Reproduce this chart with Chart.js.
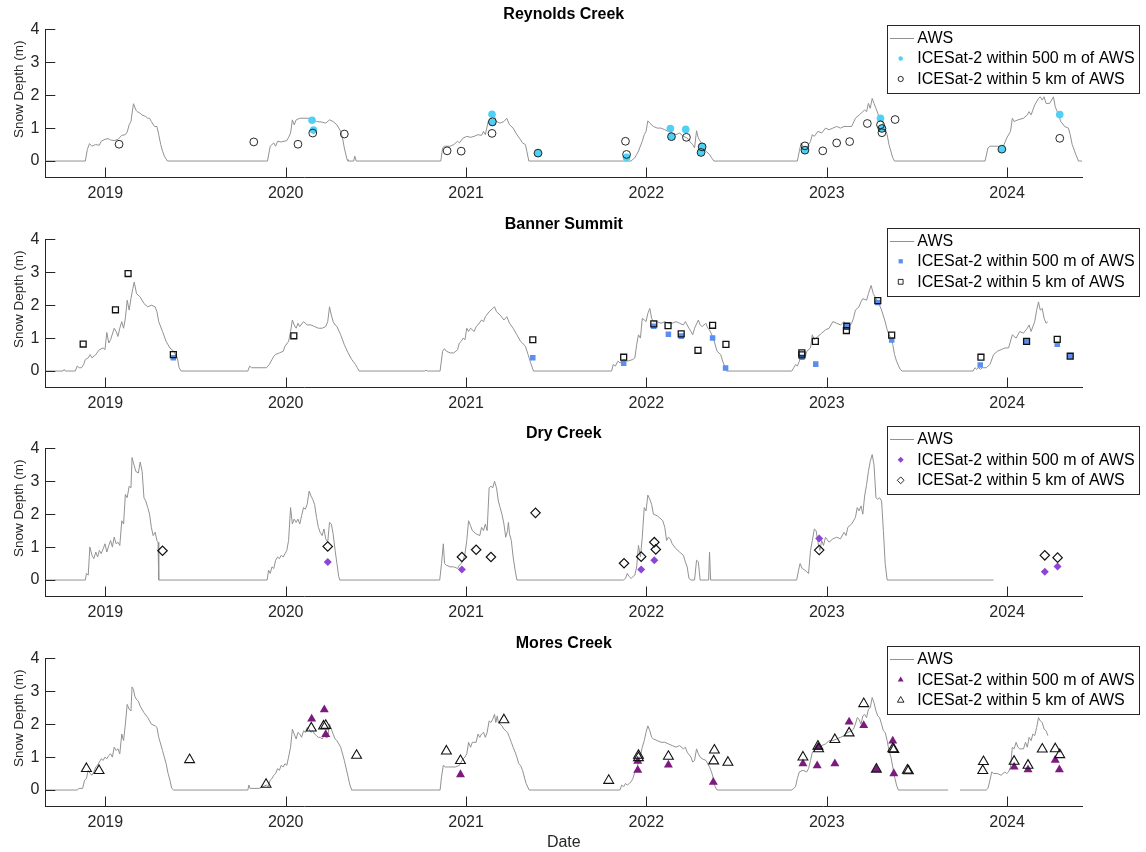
<!DOCTYPE html>
<html>
<head>
<meta charset="utf-8">
<script src="https://cdn.jsdelivr.net/npm/chart.js@4.4.1/dist/chart.umd.min.js"></script>
<style>
html, body { margin: 0; padding: 0; background: #fff; }
#wrap { position: relative; width: 1146px; height: 852px; overflow: hidden; background: #fff; }
canvas { position: absolute; left: 0; }
</style>
</head>
<body>
<div id="wrap">
  <canvas id="c0" width="1146" height="210" style="top:0px;width:1146px;height:210px"></canvas>
  <canvas id="c1" width="1146" height="210" style="top:210px;width:1146px;height:210px"></canvas>
  <canvas id="c2" width="1146" height="210" style="top:419px;width:1146px;height:210px"></canvas>
  <canvas id="c3" width="1146" height="223" style="top:629px;width:1146px;height:223px"></canvas>
</div>
<script>
// ---------- axis settings (decimal years) ----------
const xRange = [2018.667, 2024.417];
const yearTicks = [2019, 2020, 2021, 2022, 2023, 2024];
const depthRange = [-0.5, 4];
const depthTicks = [0, 1, 2, 3, 4];
const siteTitles = ['Reynolds Creek', 'Banner Summit', 'Dry Creek', 'Mores Creek'];
const seriesLabels = ['AWS', 'ICESat-2 within 500 m of AWS', 'ICESat-2 within 5 km of AWS'];
const yAxisLabel = 'Snow Depth (m)';
const xAxisLabel = 'Date';

// ---------- Reynolds Creek ----------
const reynoldsAws = [
[2018.667,0],[2018.889,0],[2018.900,0.35],[2018.912,0.53],[2018.925,0.45],[2018.945,0.50],[2018.967,0.48],[2018.977,0.60],[2018.998,0.66],[2019.015,0.68],[2019.029,0.64],[2019.049,0.62],[2019.070,0.66],[2019.091,0.78],[2019.111,0.80],[2019.121,0.88],[2019.132,1.10],[2019.142,1.20],[2019.148,1.45],[2019.156,1.74],[2019.169,1.55],[2019.177,1.50],[2019.193,1.45],[2019.204,1.40],[2019.224,1.35],[2019.235,1.30],[2019.245,1.30],[2019.255,1.20],[2019.272,1.05],[2019.286,1.05],[2019.296,0.80],[2019.307,0.50],[2019.317,0.30],[2019.327,0.15],[2019.344,0],
[2019.899,0],[2019.914,0.45],[2019.934,0.55],[2019.944,0.45],[2019.955,0.60],[2019.975,0.58],[2020.006,0.62],[2020.016,0.72],[2020.027,0.85],[2020.037,1.25],[2020.047,1.10],[2020.058,1.25],[2020.078,1.30],[2020.119,1.30],[2020.150,1.28],[2020.171,1.20],[2020.202,1.18],[2020.222,1.15],[2020.243,1.25],[2020.263,1.20],[2020.284,1.10],[2020.305,0.90],[2020.315,0.70],[2020.325,0.40],[2020.340,0.05],[2020.345,0],[2020.377,0],[2020.383,0.15],[2020.391,0],
[2020.860,0],[2020.870,0.40],[2020.881,0.45],[2020.912,0.45],[2020.932,0.50],[2020.953,0.60],[2020.963,0.55],[2020.984,0.70],[2021.004,0.75],[2021.025,0.72],[2021.045,0.75],[2021.066,0.80],[2021.086,0.78],[2021.097,0.90],[2021.107,0.80],[2021.123,1.20],[2021.138,1.30],[2021.158,1.35],[2021.169,1.20],[2021.189,1.15],[2021.210,1.20],[2021.226,1.30],[2021.241,1.10],[2021.261,1.00],[2021.282,0.80],[2021.302,0.65],[2021.313,0.55],[2021.329,0.50],[2021.337,0.30],[2021.348,0],
[2021.915,0],[2021.925,0.05],[2021.936,0.10],[2021.946,0.20],[2021.956,0.30],[2021.977,0.60],[2021.988,0.80],[2021.998,0.90],[2022.008,1.22],[2022.019,1.15],[2022.039,1.05],[2022.060,1.00],[2022.081,1.00],[2022.102,0.95],[2022.122,0.90],[2022.143,0.85],[2022.164,0.80],[2022.184,0.85],[2022.205,0.75],[2022.226,0.70],[2022.247,0.55],[2022.257,0.50],[2022.267,0.40],[2022.278,0.92],[2022.288,0.70],[2022.309,0.50],[2022.330,0.30],[2022.350,0.20],[2022.361,0.10],[2022.375,0],
[2022.837,0],[2022.848,0.30],[2022.858,0.55],[2022.868,0.45],[2022.879,0.35],[2022.889,0.40],[2022.910,0.60],[2022.920,0.80],[2022.931,0.75],[2022.951,0.90],[2022.972,0.85],[2022.993,1.00],[2023.013,0.95],[2023.034,1.00],[2023.055,1.05],[2023.076,1.00],[2023.096,1.05],[2023.117,1.05],[2023.138,1.05],[2023.159,1.30],[2023.180,1.40],[2023.200,1.50],[2023.210,1.55],[2023.221,1.50],[2023.231,1.75],[2023.241,1.60],[2023.252,1.90],[2023.262,1.75],[2023.273,1.60],[2023.283,1.45],[2023.293,1.30],[2023.304,1.30],[2023.314,1.10],[2023.324,1.00],[2023.335,0.80],[2023.345,0.50],[2023.366,0.10],[2023.376,0],
[2023.878,0],[2023.894,0.40],[2023.905,0.45],[2023.946,0.45],[2023.977,0.42],[2023.998,0.70],[2024.019,0.90],[2024.029,1.30],[2024.039,1.20],[2024.060,1.25],[2024.091,1.30],[2024.112,1.40],[2024.122,1.50],[2024.133,1.40],[2024.153,1.70],[2024.174,1.90],[2024.184,1.95],[2024.195,1.85],[2024.205,1.95],[2024.216,1.75],[2024.236,1.75],[2024.257,1.95],[2024.267,1.65],[2024.278,1.50],[2024.298,1.20],[2024.319,1.05],[2024.340,1.00],[2024.350,0.80],[2024.361,0.50],[2024.381,0.20],[2024.396,0],[2024.417,0]
];
const reynolds500m = [
[2020.146,1.24],[2020.154,0.94],[2021.144,1.42],[2021.146,1.17],[2021.399,0.24],[2021.890,0.11],[2022.133,0.99],[2022.139,0.74],[2022.218,0.96],[2022.309,0.43],[2022.303,0.26],[2022.879,0.33],[2023.298,1.30],[2023.306,0.99],[2023.971,0.36],[2024.292,1.41]
];
const reynolds5km = [
[2019.076,0.51],[2019.823,0.58],[2020.068,0.51],[2020.150,0.85],[2020.325,0.82],[2020.895,0.31],[2020.973,0.30],[2021.144,0.84],[2021.146,1.19],[2021.399,0.24],[2021.884,0.60],[2021.890,0.20],[2022.139,0.74],[2022.222,0.72],[2022.309,0.43],[2022.303,0.26],[2022.879,0.33],[2022.879,0.46],[2022.978,0.31],[2023.055,0.55],[2023.127,0.59],[2023.225,1.14],[2023.298,1.10],[2023.306,0.99],[2023.306,0.86],[2023.379,1.26],[2023.971,0.36],[2024.292,0.69]
];

// ---------- Banner Summit ----------
const bannerAws = [
[2018.667,0],[2018.765,0],[2018.772,0.05],[2018.778,0],[2018.833,0],[2018.844,0.15],[2018.855,0.10],[2018.868,0.10],[2018.880,0.20],[2018.889,0.35],[2018.905,0.40],[2018.916,0.50],[2018.926,0.40],[2018.947,0.50],[2018.967,0.65],[2018.988,0.70],[2018.998,0.65],[2019.008,1.17],[2019.019,0.85],[2019.029,0.95],[2019.049,1.30],[2019.060,1.20],[2019.070,1.05],[2019.080,1.30],[2019.091,1.50],[2019.101,1.30],[2019.111,1.60],[2019.121,2.15],[2019.132,1.85],[2019.142,2.20],[2019.152,2.50],[2019.160,2.70],[2019.173,2.35],[2019.193,2.25],[2019.214,2.05],[2019.235,1.95],[2019.255,2.00],[2019.276,1.95],[2019.286,1.80],[2019.296,1.50],[2019.317,1.20],[2019.337,0.90],[2019.358,0.70],[2019.379,0.60],[2019.399,0.40],[2019.409,0.10],[2019.420,0],
[2019.790,0],[2019.800,0.15],[2019.811,0.10],[2019.893,0.10],[2019.909,0.20],[2019.924,0.35],[2019.934,0.45],[2019.944,0.50],[2019.965,0.55],[2019.986,0.60],[2019.996,0.75],[2020.016,0.90],[2020.027,1.20],[2020.037,1.55],[2020.047,1.40],[2020.058,1.30],[2020.068,1.45],[2020.078,1.35],[2020.099,1.50],[2020.119,1.40],[2020.140,1.40],[2020.160,1.35],[2020.181,1.30],[2020.202,1.30],[2020.222,1.35],[2020.233,1.50],[2020.243,1.95],[2020.253,1.70],[2020.263,1.50],[2020.274,1.40],[2020.284,1.35],[2020.305,1.10],[2020.325,0.80],[2020.346,0.55],[2020.366,0.35],[2020.387,0.20],[2020.397,0.10],[2020.407,0],
[2020.772,0],[2020.778,0.03],[2020.785,0],[2020.856,0],[2020.870,0.60],[2020.880,0.68],[2020.891,0.60],[2020.912,0.55],[2020.932,0.55],[2020.953,0.65],[2020.963,0.85],[2020.973,0.90],[2020.984,1.00],[2020.994,0.95],[2021.004,1.30],[2021.014,1.20],[2021.025,1.30],[2021.045,1.20],[2021.056,1.35],[2021.066,1.40],[2021.086,1.55],[2021.097,1.50],[2021.107,1.65],[2021.128,1.80],[2021.148,1.90],[2021.158,1.95],[2021.169,1.80],[2021.189,1.70],[2021.210,1.55],[2021.226,1.65],[2021.241,1.45],[2021.261,1.30],[2021.282,1.10],[2021.302,0.90],[2021.313,0.85],[2021.329,0.75],[2021.344,0.50],[2021.358,0.25],[2021.374,0],
[2021.807,0],[2021.816,0.20],[2021.828,0.15],[2021.842,0.30],[2021.853,0.25],[2021.874,0.35],[2021.894,0.30],[2021.925,0.35],[2021.936,0.40],[2021.946,0.80],[2021.956,1.10],[2021.967,1.00],[2021.977,1.60],[2021.988,1.55],[2021.998,1.50],[2022.008,1.75],[2022.019,1.90],[2022.029,1.60],[2022.039,1.50],[2022.060,1.50],[2022.081,1.45],[2022.102,1.50],[2022.122,1.45],[2022.143,1.45],[2022.164,1.50],[2022.184,1.45],[2022.205,1.40],[2022.216,1.50],[2022.236,1.30],[2022.247,1.20],[2022.257,1.10],[2022.267,1.30],[2022.288,1.55],[2022.298,1.40],[2022.309,1.35],[2022.330,1.45],[2022.340,1.30],[2022.350,1.25],[2022.371,1.00],[2022.392,0.60],[2022.412,0.50],[2022.423,0.30],[2022.444,0],
[2022.806,0],[2022.817,0.10],[2022.827,0.20],[2022.837,0.15],[2022.848,0.30],[2022.858,0.45],[2022.868,0.40],[2022.879,0.40],[2022.889,0.60],[2022.910,0.70],[2022.920,1.10],[2022.931,0.95],[2022.951,1.05],[2022.972,1.15],[2022.993,1.25],[2023.013,1.30],[2023.034,1.50],[2023.055,1.45],[2023.076,1.40],[2023.096,1.50],[2023.117,1.30],[2023.138,1.45],[2023.148,1.60],[2023.159,1.85],[2023.179,1.95],[2023.190,2.10],[2023.200,2.20],[2023.221,2.15],[2023.231,2.35],[2023.246,2.60],[2023.258,2.35],[2023.273,2.20],[2023.293,2.00],[2023.304,1.85],[2023.324,1.50],[2023.335,1.25],[2023.345,1.10],[2023.356,1.00],[2023.366,0.80],[2023.376,0.50],[2023.387,0.30],[2023.407,0.05],[2023.418,0],
[2023.811,0],[2023.822,0.10],[2023.832,0.05],[2023.842,0.10],[2023.853,0.05],[2023.863,0.10],[2023.884,0.10],[2023.905,0.20],[2023.925,0.50],[2023.946,0.60],[2023.967,0.65],[2023.988,0.70],[2024.008,0.70],[2024.029,1.10],[2024.050,1.00],[2024.070,1.20],[2024.091,1.15],[2024.112,1.30],[2024.122,1.40],[2024.133,1.20],[2024.153,1.50],[2024.164,1.85],[2024.174,2.10],[2024.184,1.85],[2024.195,1.90],[2024.205,1.60],[2024.216,1.45],[2024.226,1.50]
];
const banner500m = [
[2019.377,0.40],[2021.370,0.40],[2021.874,0.24],[2022.041,1.36],[2022.122,1.12],[2022.193,1.06],[2022.367,1.00],[2022.439,0.09],[2022.862,0.42],[2022.939,0.21],[2023.111,1.36],[2023.283,2.08],[2023.360,0.94],[2023.851,0.18],[2024.108,0.90],[2024.278,0.81],[2024.350,0.45]
];
const banner5km = [
[2018.877,0.82],[2019.056,1.86],[2019.126,2.96],[2019.377,0.50],[2020.045,1.07],[2021.370,0.95],[2021.874,0.42],[2022.041,1.43],[2022.120,1.38],[2022.193,1.13],[2022.286,0.63],[2022.367,1.39],[2022.441,0.81],[2022.862,0.55],[2022.862,0.49],[2022.937,0.90],[2023.109,1.23],[2023.111,1.36],[2023.283,2.14],[2023.360,1.09],[2023.855,0.42],[2024.108,0.90],[2024.278,0.96],[2024.350,0.45]
];

// ---------- Dry Creek ----------
const dryAws = [
[2018.667,0],[2018.889,0],[2018.895,0.20],[2018.905,0.15],[2018.914,1.00],[2018.926,0.75],[2018.936,0.65],[2018.947,0.85],[2018.957,0.70],[2018.967,0.90],[2018.977,0.80],[2018.988,0.95],[2018.998,1.10],[2019.008,0.85],[2019.019,1.05],[2019.029,1.20],[2019.039,1.00],[2019.049,1.30],[2019.060,1.10],[2019.070,1.15],[2019.080,1.05],[2019.091,1.80],[2019.101,1.70],[2019.111,2.60],[2019.121,2.50],[2019.132,2.85],[2019.142,2.80],[2019.148,3.72],[2019.156,3.55],[2019.169,3.30],[2019.183,3.25],[2019.193,3.58],[2019.204,3.30],[2019.214,2.50],[2019.224,2.40],[2019.235,2.20],[2019.245,2.00],[2019.255,1.60],[2019.265,1.35],[2019.276,1.45],[2019.286,1.20],[2019.292,1.15],[2019.296,0],
[2019.897,0],[2019.905,0.30],[2019.914,0.20],[2019.924,0.40],[2019.934,0.35],[2019.944,0.60],[2019.955,0.70],[2019.965,0.65],[2019.975,0.75],[2019.986,0.70],[2019.996,0.80],[2020.006,0.90],[2020.016,1.20],[2020.027,2.20],[2020.037,1.70],[2020.047,1.85],[2020.058,1.75],[2020.068,1.85],[2020.078,1.70],[2020.088,1.95],[2020.099,2.20],[2020.109,2.15],[2020.119,2.30],[2020.130,2.70],[2020.140,2.55],[2020.150,2.45],[2020.160,2.30],[2020.171,1.90],[2020.181,1.60],[2020.191,1.45],[2020.202,1.35],[2020.212,1.55],[2020.222,1.25],[2020.233,1.15],[2020.243,1.75],[2020.253,1.70],[2020.263,1.40],[2020.274,0.90],[2020.284,0.50],[2020.294,0.10],[2020.300,0],
[2020.854,0],[2020.864,0.50],[2020.874,1.10],[2020.881,0.50],[2020.891,0.45],[2020.912,0.40],[2020.932,0.40],[2020.953,0.35],[2020.963,0.45],[2020.973,0.50],[2020.984,0.60],[2020.994,0.80],[2021.004,1.20],[2021.014,1.80],[2021.025,1.65],[2021.035,1.50],[2021.056,1.40],[2021.076,1.35],[2021.086,1.60],[2021.097,1.50],[2021.107,1.70],[2021.117,1.50],[2021.128,2.80],[2021.138,2.85],[2021.148,2.80],[2021.158,3.00],[2021.169,2.80],[2021.179,2.40],[2021.189,2.20],[2021.199,2.00],[2021.210,1.70],[2021.220,1.30],[2021.230,1.50],[2021.235,1.75],[2021.241,1.40],[2021.251,1.20],[2021.261,0.70],[2021.272,0.30],[2021.282,0],
[2021.874,0],[2021.884,0.05],[2021.894,0.20],[2021.905,0.10],[2021.915,0.05],[2021.925,0.10],[2021.936,0.15],[2021.946,0.40],[2021.956,1.05],[2021.967,0.70],[2021.977,1.30],[2021.988,2.20],[2021.998,2.10],[2022.008,2.58],[2022.019,2.45],[2022.029,2.30],[2022.039,2.00],[2022.060,1.95],[2022.081,1.85],[2022.091,1.80],[2022.102,1.60],[2022.112,1.20],[2022.122,1.30],[2022.133,1.25],[2022.143,1.10],[2022.164,0.95],[2022.184,0.85],[2022.205,0.75],[2022.216,0.55],[2022.226,0.40],[2022.236,0.05],[2022.247,0],[2022.267,0],[2022.278,0.60],[2022.288,0.55],[2022.298,0],[2022.345,0],[2022.350,0.85],[2022.356,0],
[2022.833,0],[2022.844,0.30],[2022.852,0.50],[2022.864,0.35],[2022.879,0.30],[2022.899,0.20],[2022.910,0.90],[2022.920,1.20],[2022.931,1.55],[2022.941,1.50],[2022.951,1.15],[2022.962,0.90],[2022.972,1.20],[2022.982,1.05],[2022.993,1.30],[2023.013,1.15],[2023.034,1.25],[2023.055,1.30],[2023.076,1.25],[2023.096,1.45],[2023.107,1.35],[2023.117,1.60],[2023.138,1.70],[2023.159,1.90],[2023.169,2.20],[2023.179,2.10],[2023.190,2.25],[2023.200,2.00],[2023.210,2.55],[2023.221,2.90],[2023.231,3.30],[2023.241,3.60],[2023.252,3.81],[2023.262,3.50],[2023.273,2.50],[2023.283,2.45],[2023.293,2.50],[2023.304,2.40],[2023.314,1.50],[2023.324,0.50],[2023.335,0],[2023.925,0]
];
const dry500m = [
[2020.233,0.55],[2020.977,0.32],[2021.971,0.32],[2022.044,0.60],[2022.958,1.26],[2024.209,0.25],[2024.280,0.41]
];
const dry5km = [
[2019.317,0.89],[2020.233,1.02],[2020.977,0.70],[2021.056,0.92],[2021.138,0.70],[2021.385,2.04],[2021.876,0.51],[2021.971,0.71],[2022.044,1.15],[2022.052,0.93],[2022.958,0.91],[2024.209,0.75],[2024.280,0.68]
];

// ---------- Mores Creek ----------
const moresAws = [
[2018.667,0],[2018.844,0],[2018.854,0.05],[2018.874,0.05],[2018.885,0.30],[2018.895,0.35],[2018.905,0.60],[2018.916,0.50],[2018.926,0.45],[2018.936,0.55],[2018.947,0.70],[2018.957,0.75],[2018.967,0.85],[2018.977,0.95],[2018.988,0.90],[2018.998,1.00],[2019.008,0.95],[2019.019,1.05],[2019.029,1.10],[2019.039,1.00],[2019.049,1.30],[2019.060,1.20],[2019.070,1.25],[2019.080,1.10],[2019.091,1.70],[2019.101,1.50],[2019.111,2.00],[2019.121,2.60],[2019.132,2.45],[2019.142,2.40],[2019.148,3.13],[2019.156,3.05],[2019.163,2.85],[2019.173,2.75],[2019.183,2.70],[2019.193,2.55],[2019.214,2.35],[2019.235,2.20],[2019.255,2.00],[2019.276,1.95],[2019.286,1.90],[2019.296,1.60],[2019.317,1.20],[2019.337,0.80],[2019.348,0.50],[2019.358,0.30],[2019.368,0.05],[2019.379,0],
[2019.790,0],[2019.796,0.15],[2019.802,0.05],[2019.852,0.05],[2019.872,0.10],[2019.893,0.15],[2019.903,0.10],[2019.914,0.30],[2019.924,0.35],[2019.934,0.45],[2019.944,0.50],[2019.955,0.65],[2019.965,0.60],[2019.975,0.75],[2019.986,0.70],[2019.996,0.80],[2020.006,0.75],[2020.016,1.00],[2020.027,1.30],[2020.037,1.85],[2020.047,1.70],[2020.058,1.55],[2020.068,1.75],[2020.078,1.70],[2020.088,1.60],[2020.099,1.80],[2020.109,1.75],[2020.119,1.90],[2020.130,1.85],[2020.140,1.75],[2020.150,1.80],[2020.160,1.70],[2020.171,1.65],[2020.181,1.60],[2020.191,1.60],[2020.202,1.55],[2020.212,1.65],[2020.222,1.60],[2020.233,1.60],[2020.243,2.00],[2020.253,1.85],[2020.263,1.70],[2020.274,1.55],[2020.284,1.50],[2020.305,1.30],[2020.325,0.90],[2020.346,0.40],[2020.356,0.15],[2020.366,0],
[2020.856,0],[2020.864,0.40],[2020.874,0.75],[2020.885,0.70],[2020.901,0.70],[2020.922,0.70],[2020.942,0.70],[2020.963,0.75],[2020.973,0.85],[2020.984,0.95],[2020.994,1.00],[2021.004,1.10],[2021.014,1.45],[2021.025,1.30],[2021.035,1.45],[2021.056,1.45],[2021.066,1.70],[2021.076,1.60],[2021.086,1.70],[2021.097,1.75],[2021.107,1.60],[2021.117,1.75],[2021.128,2.10],[2021.138,2.05],[2021.148,2.15],[2021.158,2.30],[2021.165,2.05],[2021.173,2.25],[2021.179,2.05],[2021.189,2.00],[2021.199,1.95],[2021.210,1.85],[2021.220,1.80],[2021.230,1.75],[2021.241,1.60],[2021.251,1.45],[2021.261,1.30],[2021.272,1.15],[2021.282,1.00],[2021.292,0.80],[2021.302,0.75],[2021.313,0.60],[2021.333,0.20],[2021.350,0],
[2021.853,0],[2021.863,0.15],[2021.874,0.10],[2021.884,0.20],[2021.894,0.15],[2021.905,0.20],[2021.915,0.25],[2021.925,0.35],[2021.936,0.55],[2021.946,0.60],[2021.956,0.85],[2021.967,1.05],[2021.977,1.30],[2021.988,1.50],[2021.998,1.75],[2022.008,1.95],[2022.019,1.80],[2022.029,1.60],[2022.039,1.55],[2022.060,1.50],[2022.081,1.45],[2022.102,1.45],[2022.122,1.40],[2022.143,1.35],[2022.164,1.30],[2022.184,1.35],[2022.205,1.25],[2022.216,1.30],[2022.226,1.15],[2022.247,1.00],[2022.257,0.85],[2022.267,0.90],[2022.278,1.25],[2022.288,1.10],[2022.298,1.00],[2022.309,0.95],[2022.330,0.90],[2022.350,0.70],[2022.361,0.55],[2022.371,0.35],[2022.381,0.10],[2022.392,0],
[2022.806,0],[2022.817,0.05],[2022.827,0.10],[2022.837,0.35],[2022.848,0.55],[2022.868,0.60],[2022.889,0.55],[2022.899,0.65],[2022.910,0.90],[2022.920,1.15],[2022.931,1.20],[2022.941,1.35],[2022.951,1.25],[2022.972,1.35],[2022.993,1.40],[2023.013,1.50],[2023.034,1.50],[2023.055,1.55],[2023.076,1.60],[2023.096,1.65],[2023.117,1.75],[2023.138,1.80],[2023.148,1.85],[2023.159,2.00],[2023.169,2.20],[2023.179,2.15],[2023.190,2.00],[2023.200,2.25],[2023.210,2.30],[2023.221,2.20],[2023.231,2.45],[2023.241,2.50],[2023.252,2.81],[2023.262,2.65],[2023.273,2.40],[2023.283,2.25],[2023.293,2.20],[2023.304,2.00],[2023.314,1.80],[2023.324,1.75],[2023.335,1.50],[2023.345,1.20],[2023.356,1.00],[2023.366,0.70],[2023.376,0.40],[2023.387,0.15],[2023.397,0],[2023.673,0],[2023.706,null],[2023.739,0],
[2023.884,0],[2023.894,0.05],[2023.905,0.30],[2023.915,0.55],[2023.925,0.50],[2023.946,0.50],[2023.967,0.45],[2023.977,0.50],[2023.988,0.55],[2023.998,0.50],[2024.008,0.55],[2024.019,0.70],[2024.029,1.30],[2024.039,1.25],[2024.050,1.45],[2024.060,1.30],[2024.070,1.25],[2024.091,1.25],[2024.102,1.45],[2024.112,1.30],[2024.122,1.60],[2024.133,1.50],[2024.143,1.70],[2024.153,1.65],[2024.164,1.90],[2024.174,2.20],[2024.184,2.10],[2024.195,2.05],[2024.205,1.85],[2024.216,1.80],[2024.226,1.65]
];
const mores500m = [
[2020.144,2.16],[2020.214,2.44],[2020.222,1.69],[2020.969,0.47],[2021.952,0.88],[2021.952,0.60],[2022.122,0.76],[2022.371,0.24],[2022.868,0.80],[2022.951,1.30],[2022.947,0.74],[2023.045,0.80],[2023.124,2.07],[2023.205,1.96],[2023.275,0.63],[2023.366,1.49],[2023.372,0.50],[2024.039,0.70],[2024.116,0.62],[2024.267,0.91],[2024.290,0.62]
];
const mores5km = [
[2018.895,0.65],[2018.965,0.59],[2019.467,0.92],[2019.891,0.17],[2020.142,1.88],[2020.210,1.94],[2020.222,1.96],[2020.393,1.05],[2020.891,1.18],[2020.969,0.89],[2021.210,2.13],[2021.791,0.29],[2021.956,1.05],[2021.956,0.98],[2022.122,1.02],[2022.377,1.21],[2022.373,0.88],[2022.452,0.84],[2022.868,1.00],[2022.951,1.33],[2022.955,1.25],[2023.045,1.53],[2023.124,1.73],[2023.205,2.62],[2023.275,0.63],[2023.366,1.25],[2023.372,1.23],[2023.447,0.60],[2023.453,0.58],[2023.869,0.86],[2023.865,0.59],[2024.039,0.87],[2024.116,0.75],[2024.195,1.24],[2024.267,1.25],[2024.292,1.07]
];

// ---------- rendering ----------
const FONT = "'Liberation Sans', Arial, Helvetica, sans-serif";
const AXIS_COLOR = '#262626';
const AWS_COLOR = '#929292';
const PLOT_LEFT = 45.3, PLOT_RIGHT = 1082.3, PLOT_BOTTOM = 177.5;

function toXY(arr) { return arr.map(p => ({ x: p[0], y: p[1] })); }

function drawMarker(ctx, style, x, y, r, fill, stroke, lw) {
  ctx.beginPath();
  if (style === 'circle') {
    ctx.arc(x, y, r, 0, Math.PI * 2);
  } else if (style === 'rect') {
    const s = r * Math.SQRT1_2; ctx.rect(x - s, y - s, 2 * s, 2 * s);
  } else if (style === 'rectRot') {
    ctx.moveTo(x, y - r); ctx.lineTo(x + r, y); ctx.lineTo(x, y + r); ctx.lineTo(x - r, y); ctx.closePath();
  } else if (style === 'triangle') {
    const a = 2 * Math.PI / 3;
    ctx.moveTo(x, y - r);
    ctx.lineTo(x + r * Math.sin(a), y - r * Math.cos(a));
    ctx.lineTo(x + r * Math.sin(2 * a), y - r * Math.cos(2 * a));
    ctx.closePath();
  }
  if (fill) { ctx.fillStyle = fill; ctx.fill(); }
  if (stroke) { ctx.strokeStyle = stroke; ctx.lineWidth = lw || 1; ctx.stroke(); }
}

// inward tick marks (MATLAB style) drawn at the scales' own tick positions
const inwardTicks = {
  id: 'inwardTicks',
  afterDraw(chart) {
    const { ctx, chartArea: a, scales: { x, y } } = chart;
    ctx.save();
    ctx.strokeStyle = AXIS_COLOR; ctx.lineWidth = 1;
    ctx.beginPath();
    x.ticks.forEach(t => {
      const px = Math.round(x.getPixelForValue(t.value)) + 0.5;
      ctx.moveTo(px, a.bottom); ctx.lineTo(px, a.bottom - 10);
    });
    y.ticks.forEach(t => {
      const py = Math.round(y.getPixelForValue(t.value)) + 0.5;
      ctx.moveTo(a.left, py); ctx.lineTo(a.left + 10, py);
    });
    ctx.stroke();
    ctx.restore();
  }
};

// y-axis label, placed like the original
const yLabel = {
  id: 'yLabel',
  afterDraw(chart) {
    const { ctx, chartArea: a } = chart;
    ctx.save();
    ctx.translate(19.5, a.top + 60);
    ctx.rotate(-Math.PI / 2);
    ctx.fillStyle = AXIS_COLOR;
    ctx.font = '13.5px ' + FONT;
    ctx.textAlign = 'center'; ctx.textBaseline = 'middle';
    ctx.fillText(yAxisLabel, 0, 0);
    ctx.restore();
  }
};

const panelLegend = {
  id: 'panelLegend',
  afterDraw(chart, args, opts) {
    const ctx = chart.ctx, a = chart.chartArea;
    const ds = chart.data.datasets;
    const aws = ds.find(d => d.label === seriesLabels[0]);
    const near = ds.find(d => d.label === seriesLabels[1]);
    const far = ds.find(d => d.label === seriesLabels[2]);
    const r0 = a.top + opts.rowOffset;
    const rows = [r0, r0 + 20.5, r0 + 41];
    const left = 887, right = 1139, top = Math.round(r0 - 13), bottom = Math.round(r0 + 55);
    ctx.save();
    ctx.fillStyle = '#ffffff';
    ctx.fillRect(left, top, right - left, bottom - top);
    ctx.strokeStyle = AXIS_COLOR; ctx.lineWidth = 1;
    ctx.strokeRect(left + 0.5, top + 0.5, right - left, bottom - top);
    ctx.strokeStyle = aws.borderColor; ctx.lineWidth = 1;
    ctx.beginPath();
    ctx.moveTo(890, Math.round(rows[0]) + 0.5); ctx.lineTo(914, Math.round(rows[0]) + 0.5);
    ctx.stroke();
    drawMarker(ctx, opts.style, 900.7, rows[1], opts.legendNearR, near.backgroundColor, null);
    drawMarker(ctx, opts.style, 900.7, rows[2], opts.legendFarR, null, far.borderColor, 0.9);
    ctx.fillStyle = '#000';
    ctx.font = '16px ' + FONT;
    ctx.textAlign = 'left'; ctx.textBaseline = 'middle';
    ctx.fillText(aws.label, 917.3, rows[0] + 0.5);
    ctx.fillText(near.label, 917.3, rows[1] + 0.5);
    ctx.fillText(far.label, 917.3, rows[2] + 0.5);
    ctx.restore();
  }
};

const panels = [
  { id: 'c0', H: 210, title: siteTitles[0], aws: reynoldsAws, near: reynolds500m, far: reynolds5km, legendRow: 8.7,
    style: 'circle', color: '#4fd0f4', nearR: 3.8, farR: 3.9, farW: 0.9, legendNearR: 2.2, legendFarR: 2.6 },
  { id: 'c1', H: 210, title: siteTitles[1], aws: bannerAws, near: banner500m, far: banner5km, legendRow: 1.5,
    style: 'rect', color: '#5b8ef0', nearR: 3.9, farR: 4.2, farW: 1.3, legendNearR: 3.0, legendFarR: 3.4 },
  { id: 'c2', H: 210, title: siteTitles[2], aws: dryAws, near: dry500m, far: dry5km, legendRow: -9,
    style: 'rectRot', color: '#8e44d4', nearR: 4.0, farR: 4.7, farW: 1.2, legendNearR: 3.0, legendFarR: 3.4 },
  { id: 'c3', H: 223, title: siteTitles[3], aws: moresAws, near: mores500m, far: mores5km, legendRow: 1,
    style: 'triangle', color: '#7d1a80', nearR: 5.2, farR: 5.7, farW: 1.1, legendNearR: 3.4, legendFarR: 3.8, xTitle: xAxisLabel }
];

panels.forEach(p => {
  new Chart(document.getElementById(p.id), {
    type: 'scatter',
    data: {
      datasets: [
        { label: seriesLabels[2], data: toXY(p.far), pointStyle: p.style, pointRadius: p.farR, pointHoverRadius: p.farR,
          backgroundColor: 'rgba(0,0,0,0)', borderColor: '#111111', borderWidth: p.farW, order: 1 },
        { label: seriesLabels[1], data: toXY(p.near), pointStyle: p.style, pointRadius: p.nearR, pointHoverRadius: p.nearR,
          backgroundColor: p.color, borderColor: p.color, borderWidth: 0, order: 2 },
        { label: seriesLabels[0], data: toXY(p.aws), showLine: true, spanGaps: false, tension: 0,
          borderColor: AWS_COLOR, backgroundColor: AWS_COLOR, borderWidth: 1, pointRadius: 0, pointHoverRadius: 0, order: 3 }
      ]
    },
    options: {
      responsive: false,
      animation: false,
      devicePixelRatio: 1,
      events: [],
      layout: { padding: { left: 0, right: 1146 - PLOT_RIGHT, top: 0, bottom: 0 } },
      plugins: {
        legend: { display: false },
        tooltip: { enabled: false },
        title: { display: true, text: p.title, fullSize: false, color: '#000',
                 font: { family: FONT, size: 16, weight: 'bold', lineHeight: 1.2 }, padding: { top: 4.7, bottom: 5.4 } },
        panelLegend: { style: p.style, legendNearR: p.legendNearR, legendFarR: p.legendFarR, rowOffset: p.legendRow }
      },
      scales: {
        x: {
          type: 'linear', position: 'bottom', min: xRange[0], max: xRange[1],
          afterBuildTicks: s => { s.ticks = yearTicks.map(v => ({ value: v })); },
          afterFit: s => { s.height = p.H - PLOT_BOTTOM; },
          ticks: { autoSkip: false, maxRotation: 0, padding: 6, color: AXIS_COLOR,
                   font: { family: FONT, size: 16 }, callback: v => String(v) },
          grid: { display: true, drawOnChartArea: false, drawTicks: false },
          border: { display: true, color: AXIS_COLOR, width: 1 },
          title: { display: !!p.xTitle, text: p.xTitle || '', color: AXIS_COLOR,
                   font: { family: FONT, size: 16 }, padding: { top: 0, bottom: 0 } }
        },
        y: {
          type: 'linear', position: 'left', min: depthRange[0], max: depthRange[1],
          afterBuildTicks: s => { s.ticks = depthTicks.map(v => ({ value: v })); },
          afterFit: s => { s.width = PLOT_LEFT; },
          ticks: { padding: 6, color: AXIS_COLOR, font: { family: FONT, size: 16 }, callback: v => String(v) },
          grid: { display: true, drawOnChartArea: false, drawTicks: false },
          border: { display: true, color: AXIS_COLOR, width: 1 },
          title: { display: false }
        }
      }
    },
    plugins: [inwardTicks, yLabel, panelLegend]
  });
});
</script>
</body>
</html>
